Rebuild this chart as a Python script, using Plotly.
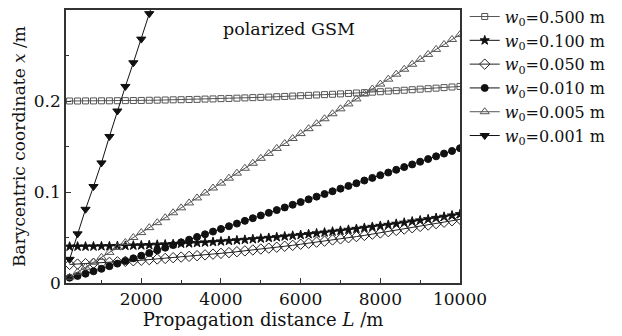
import plotly.graph_objects as go

L_all = [200 * k for k in range(1, 51)]

w0_labels = ["0.500", "0.100", "0.050", "0.010", "0.005", "0.001"]

x_w0500 = [0.2000, 0.2000, 0.2001, 0.2001, 0.2002, 0.2002, 0.2003, 0.2004, 0.2005, 0.2006,
           0.2008, 0.2009, 0.2011, 0.2013, 0.2014, 0.2016, 0.2018, 0.2021, 0.2023, 0.2026,
           0.2028, 0.2031, 0.2034, 0.2037, 0.2040, 0.2043, 0.2047, 0.2050, 0.2054, 0.2058,
           0.2062, 0.2066, 0.2070, 0.2074, 0.2078, 0.2083, 0.2088, 0.2092, 0.2097, 0.2102,
           0.2108, 0.2113, 0.2118, 0.2124, 0.2130, 0.2135, 0.2141, 0.2147, 0.2154, 0.2160]

x_w0100 = [0.0400, 0.0401, 0.0401, 0.0402, 0.0404, 0.0405, 0.0407, 0.0409, 0.0412, 0.0414,
           0.0417, 0.0421, 0.0424, 0.0428, 0.0432, 0.0436, 0.0441, 0.0446, 0.0451, 0.0457,
           0.0463, 0.0469, 0.0475, 0.0482, 0.0489, 0.0496, 0.0504, 0.0512, 0.0520, 0.0528,
           0.0537, 0.0546, 0.0555, 0.0565, 0.0574, 0.0585, 0.0595, 0.0606, 0.0617, 0.0628,
           0.0639, 0.0651, 0.0663, 0.0676, 0.0688, 0.0701, 0.0715, 0.0728, 0.0742, 0.0756]

x_w0050 = [0.0204, 0.0208, 0.0213, 0.0217, 0.0222, 0.0227, 0.0233, 0.0238, 0.0244, 0.0250,
           0.0257, 0.0264, 0.0270, 0.0278, 0.0285, 0.0293, 0.0300, 0.0309, 0.0317, 0.0326,
           0.0334, 0.0344, 0.0353, 0.0363, 0.0373, 0.0383, 0.0393, 0.0404, 0.0414, 0.0426,
           0.0437, 0.0449, 0.0460, 0.0473, 0.0485, 0.0497, 0.0510, 0.0523, 0.0537, 0.0550,
           0.0564, 0.0578, 0.0593, 0.0607, 0.0622, 0.0637, 0.0653, 0.0668, 0.0684, 0.0700]

x_w0010 = [0.0058, 0.0078, 0.0102, 0.0129, 0.0156, 0.0185, 0.0213, 0.0242, 0.0271, 0.0300,
           0.0329, 0.0359, 0.0388, 0.0417, 0.0447, 0.0476, 0.0506, 0.0535, 0.0565, 0.0594,
           0.0624, 0.0653, 0.0683, 0.0712, 0.0742, 0.0771, 0.0801, 0.0830, 0.0860, 0.0889,
           0.0919, 0.0949, 0.0978, 0.1008, 0.1037, 0.1067, 0.1096, 0.1126, 0.1155, 0.1185,
           0.1214, 0.1244, 0.1274, 0.1303, 0.1333, 0.1362, 0.1392, 0.1422, 0.1451, 0.1481]

x_w0005 = [0.0064, 0.0119, 0.0173, 0.0228, 0.0282, 0.0336, 0.0391, 0.0445, 0.0500, 0.0554,
           0.0608, 0.0663, 0.0717, 0.0772, 0.0826, 0.0880, 0.0935, 0.0989, 0.1044, 0.1098,
           0.1152, 0.1207, 0.1261, 0.1316, 0.1370, 0.1424, 0.1479, 0.1533, 0.1588, 0.1642,
           0.1696, 0.1751, 0.1805, 0.1860, 0.1914, 0.1968, 0.2023, 0.2077, 0.2132, 0.2186,
           0.2240, 0.2295, 0.2349, 0.2404, 0.2458, 0.2512, 0.2567, 0.2621, 0.2676, 0.2730]

x_w0001 = [0.026, 0.054, 0.081, 0.106, 0.132, 0.161, 0.189, 0.216, 0.242, 0.268, 0.296, 0.323]

series = [
    (x_w0500, "square-open", 6, "#555555"),
    (x_w0100, "star", 7, "#111111"),
    (x_w0050, "diamond-open", 8, "#222222"),
    (x_w0010, "circle", 7, "#111111"),
    (x_w0005, "triangle-up-open", 8, "#555555"),
    (x_w0001, "triangle-down", 8, "#111111"),
]

FONT = "DejaVu Serif"

fig = go.Figure()
for (ys, sym, size, col), lab in zip(series, w0_labels):
    fig.add_trace(go.Scatter(
        x=L_all[:len(ys)], y=ys, mode="lines+markers",
        name="<i>w</i><sub>0</sub>=" + lab + " m",
        line=dict(color=col, width=1),
        marker=dict(symbol=sym, size=size, color=col, line=dict(color=col, width=1)),
    ))

fig.add_annotation(x=0.566, y=0.932, xref="paper", yref="paper", text="polarized GSM",
                   showarrow=False, xanchor="center", yanchor="middle",
                   font=dict(family=FONT, size=17.5, color="#111111"))

fig.update_layout(
    width=622, height=336,
    margin=dict(l=66, r=162, t=10, b=53, autoexpand=False),
    paper_bgcolor="white", plot_bgcolor="white",
    font=dict(family=FONT, size=17, color="#111111"),
    showlegend=True,
    legend=dict(x=1.012, y=1.038, xanchor="left", yanchor="top",
                font=dict(family=FONT, size=16, color="#111111"),
                itemwidth=30, tracegroupgap=0, bgcolor="rgba(0,0,0,0)"),
    xaxis=dict(range=[110, 10000], tickvals=[2000, 4000, 6000, 8000, 10000],
               ticktext=["2000", "4000", "6000", "8000", "10000"],
               ticks="inside", ticklen=5, tickcolor="#333333",
               minor=dict(tickvals=[1000, 3000, 5000, 7000, 9000], ticks="inside", ticklen=3, tickcolor="#333333"),
               showline=True, linecolor="#333333", linewidth=1.5, mirror=True,
               showgrid=False, zeroline=False, automargin=False,
               title=dict(text="Propagation distance <i>L</i> /m", standoff=2,
                          font=dict(family=FONT, size=18))),
    yaxis=dict(range=[0, 0.3], tickvals=[0, 0.1, 0.2, 0.3], ticktext=["0", "0.1", "0.2", "0.3"],
               ticks="inside", ticklen=5, tickcolor="#333333",
               minor=dict(tickvals=[0.05, 0.15, 0.25], ticks="inside", ticklen=3, tickcolor="#333333"),
               showline=True, linecolor="#333333", linewidth=1.5, mirror=True,
               showgrid=False, zeroline=False, automargin=False,
               title=dict(text="Barycentric coordinate <i>x</i> /m", standoff=4,
                          font=dict(family=FONT, size=17))),
)

fig.write_html("out.html")
